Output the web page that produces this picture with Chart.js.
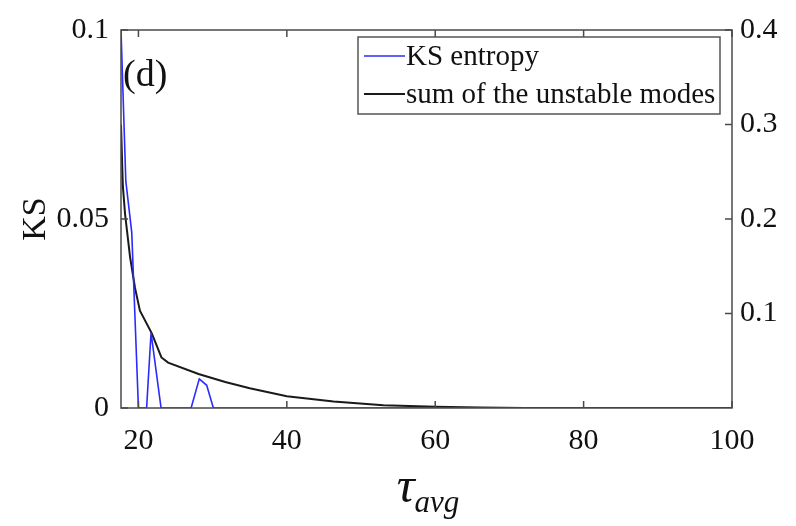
<!DOCTYPE html>
<html>
<head>
<meta charset="utf-8">
<script src="https://cdn.jsdelivr.net/npm/chart.js@4.4.1/dist/chart.umd.min.js"></script>
<style>
  body { margin: 0; background: #fff; }
  #wrap { position: relative; width: 796px; height: 526px; }
  #xtitle {
    position: absolute; left: 0; width: 856px; top: 462px; text-align: center;
    font-family: "Liberation Serif", serif; font-style: italic; color: #111;
    font-size: 50px; line-height: 46px;
  }
  #xtitle sub { font-size: 31px; vertical-align: -10px; }
</style>
</head>
<body>
<div id="wrap">
  <canvas id="c" width="796" height="526"></canvas>
  <div id="xtitle">τ<sub>avg</sub></div>
</div>
<script>
/* datos */
const tauKS = [17.65, 18.3, 19.1, 20.0, 21.1, 21.7, 23.05, 27.1, 28.2, 29.2, 30.1, 100];
const ksEntropy = [0.1, 0.06, 0.0464, 0, 0, 0.0199, 0, 0, 0.0077, 0.006, 0, 0];

const tauSum = [17.65, 17.9, 18.2, 18.87, 19.54, 20.2, 21.8, 23.1, 24.0, 28.1, 31.7, 35, 40, 46.3, 53, 60, 66, 72, 100];
const sumModes = [0.3, 0.235, 0.205, 0.16, 0.127, 0.103, 0.079, 0.0535, 0.048, 0.036, 0.0275, 0.021, 0.0125, 0.007, 0.0028, 0.0012, 0.0004, 0, 0];

const xTicks = [20, 40, 60, 80, 100];
const yLeftTicks = [0, 0.05, 0.1];
const yRightTicks = [0.1, 0.2, 0.3, 0.4];

const SERIF = '"Liberation Serif", "DejaVu Serif", serif';

/* marco + ticks hacia dentro + leyenda + (d) */
const marcoPlugin = {
    id: "marco",
    afterDatasetsDraw(chart) {
        const ctx = chart.ctx;
        const a = chart.chartArea;
        const L = 7;
        ctx.save();
        ctx.strokeStyle = "#4a4a4a";
        ctx.lineWidth = 1.5;
        ctx.strokeRect(a.left, a.top, a.right - a.left, a.bottom - a.top);

        ctx.beginPath();
        for (const v of xTicks) {
            const px = chart.scales.x.getPixelForValue(v);
            ctx.moveTo(px, a.bottom); ctx.lineTo(px, a.bottom - L);
            ctx.moveTo(px, a.top); ctx.lineTo(px, a.top + L);
        }
        for (const v of yLeftTicks) {
            const py = chart.scales.y.getPixelForValue(v);
            ctx.moveTo(a.left, py); ctx.lineTo(a.left + L, py);
        }
        for (const v of yRightTicks) {
            const py = chart.scales.y1.getPixelForValue(v);
            ctx.moveTo(a.right, py); ctx.lineTo(a.right - L, py);
        }
        ctx.stroke();

        // leyenda
        const bx = 358, by = 37, bw = 362, bh = 77;
        ctx.fillStyle = "#fff";
        ctx.fillRect(bx, by, bw, bh);
        ctx.strokeStyle = "#555";
        ctx.lineWidth = 1.5;
        ctx.strokeRect(bx, by, bw, bh);
        ctx.font = "29px " + SERIF;
        ctx.textBaseline = "middle";
        chart.data.datasets.forEach((ds, i) => {
            const yy = by + 19 + i * 38;
            ctx.strokeStyle = ds.borderColor;
            ctx.lineWidth = ds.borderWidth;
            ctx.beginPath();
            ctx.moveTo(bx + 6, yy); ctx.lineTo(bx + 47, yy);
            ctx.stroke();
            ctx.fillStyle = "#111";
            ctx.fillText(ds.label, bx + 48, yy + 1);
        });

        ctx.font = "38px " + SERIF;
        ctx.fillStyle = "#111";
        ctx.textBaseline = "alphabetic";
        ctx.fillText("(d)", a.left + 2, a.top + 56);
        ctx.restore();
    }
};

const ctx = document.getElementById("c");

new Chart(ctx, {
    type: "line",
    data: {
        datasets: [
            {
                label: "KS entropy",
                data: tauKS.map((t, i) => ({ x: t, y: ksEntropy[i] })),
                yAxisID: "y",
                borderColor: "#2b2bff",
                borderWidth: 1.6,
                pointRadius: 0,
                tension: 0
            },
            {
                label: "sum of the unstable modes",
                data: tauSum.map((t, i) => ({ x: t, y: sumModes[i] })),
                yAxisID: "y1",
                borderColor: "#1a1a1a",
                borderWidth: 2,
                pointRadius: 0,
                tension: 0
            }
        ]
    },
    options: {
        responsive: false,
        animation: false,
        layout: { padding: { top: 24, left: 0, right: 0, bottom: 0 } },
        plugins: { legend: { display: false }, tooltip: { enabled: false } },
        scales: {
            x: {
                type: "linear",
                min: 17.65,
                max: 100,
                afterBuildTicks: s => { s.ticks = xTicks.map(v => ({ value: v })); },
                afterFit: s => { s.height = 118; },
                grid: { display: false, drawTicks: false },
                border: { display: false },
                ticks: { color: "#111", font: { family: SERIF, size: 30 }, padding: 15, maxRotation: 0 }
            },
            y: {
                position: "left",
                min: 0,
                max: 0.1,
                afterBuildTicks: s => { s.ticks = yLeftTicks.map(v => ({ value: v })); },
                afterFit: s => { s.width = 121; },
                grid: { display: false, drawTicks: false },
                border: { display: false },
                ticks: { color: "#111", font: { family: SERIF, size: 30 }, padding: 12, callback: v => String(v) },
                title: { display: true, text: "KS", color: "#111", font: { family: SERIF, size: 34 }, padding: { top: 16, bottom: 0 } }
            },
            y1: {
                position: "right",
                min: 0,
                max: 0.4,
                afterBuildTicks: s => { s.ticks = yRightTicks.map(v => ({ value: v })); },
                afterFit: s => { s.width = 64; },
                grid: { display: false, drawTicks: false },
                border: { display: false },
                ticks: { color: "#111", font: { family: SERIF, size: 30 }, padding: 8, callback: v => String(v) }
            }
        }
    },
    plugins: [marcoPlugin]
});
</script>
</body>
</html>
